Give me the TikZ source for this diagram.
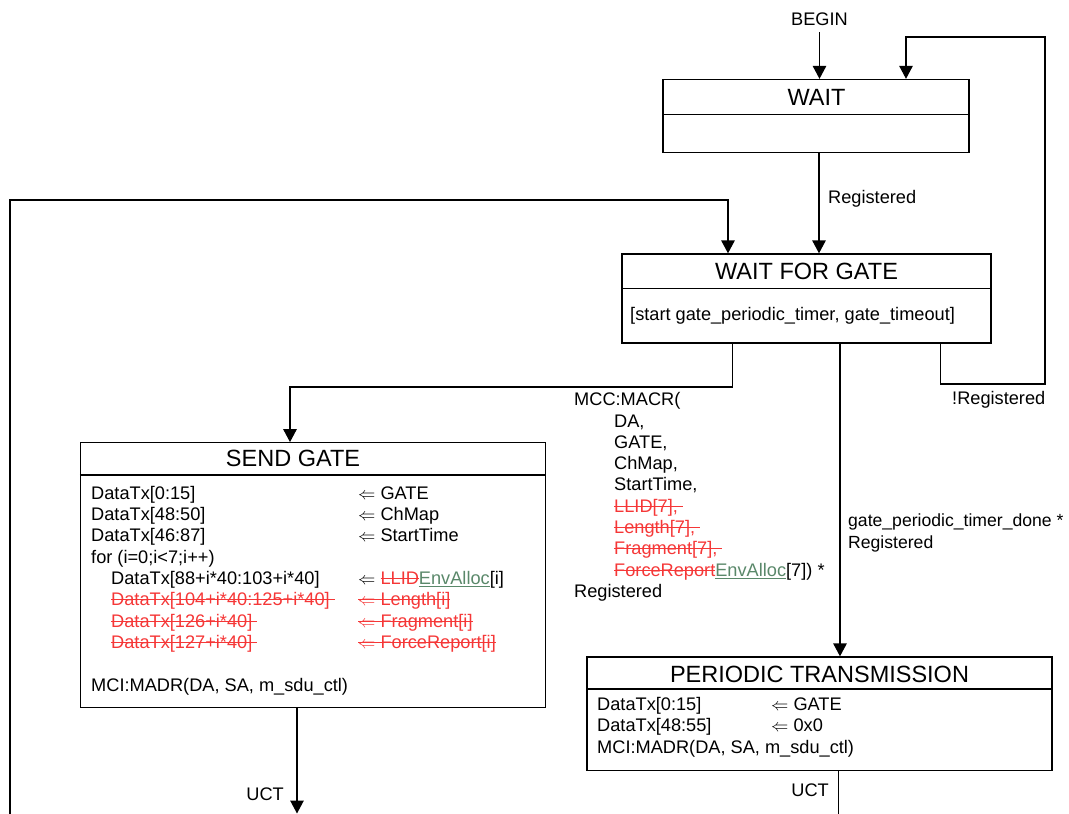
\documentclass[tikz,border=0pt]{standalone}
\usepackage{fontspec}
\setmainfont{Liberation Sans}
\usetikzlibrary{arrows.meta}
\definecolor{strikered}{RGB}{245,55,55}
\definecolor{envgreen}{RGB}{90,136,106}
\newsavebox{\strbox}
\newcommand{\del}[1]{{\color{strikered}\sbox{\strbox}{#1}\rlap{\rule[5.5pt]{\wd\strbox}{1.1pt}}\usebox{\strbox}}}
\newcommand{\ins}[1]{{\color{envgreen}\sbox{\strbox}{#1}\rlap{\rule[-2.6pt]{\wd\strbox}{1pt}}\usebox{\strbox}}}
\newcommand{\la}{$\Leftarrow$}
\begin{document}
\begin{tikzpicture}[x=1pt,y=-1pt,
  every node/.style={font=\fontsize{18.2}{21.3}\selectfont, inner sep=0pt},
  statebox/.style={draw, line width=1.3pt, rectangle},
  title/.style={font=\fontsize{23.5}{26}\selectfont, anchor=base},
  lbl/.style={anchor=base west},
  conn/.style={line width=1.3pt},
  arr/.style={conn, -{Triangle[length=13pt,width=13.5pt]}},
  divider/.style={line width=1.3pt}]
\useasboundingbox (0,0) rectangle (1069,814);

% states
\node[statebox, minimum width=306pt, minimum height=73pt] (wait) at (816,116) {};
\node[title] (waitT) at (816.5,105) {WAIT};
\draw[divider] (wait.west |- 0,114.3) -- (wait.east |- 0,114.3);

\node[statebox, minimum width=369pt, minimum height=89pt] (wfg) at (806.5,298.5) {};
\node[title] (wfgT) at (806.5,279) {WAIT FOR GATE};
\draw[divider] (wfg.west |- 0,288.5) -- (wfg.east |- 0,288.5);
\node[lbl] (wfgB) at (630,320) {[start gate\_periodic\_timer, gate\_timeout]};

\node[statebox, minimum width=465pt, minimum height=265pt] (sg) at (313,575.25) {};
\node[title] (sgT) at (293,466) {SEND GATE};
\draw[divider] (sg.west |- 0,475) -- (sg.east |- 0,475);
\node[lbl] (sgB) at (91,499.3) {%
\begin{tabular}[t]{@{}p{267pt}@{}l@{}}
DataTx[0:15] & \la\ GATE\\
DataTx[48:50] & \la\ ChMap\\
DataTx[46:87] & \la\ StartTime\\
for (i=0;i{\textless}7;i++) & \\
\hspace*{20pt}DataTx[88+i*40:103+i*40] & \la\ \del{LLID}\ins{EnvAlloc}[i]\\
\hspace*{20pt}\del{DataTx[104+i*40:125+i*40]~} & \del{\la~Length[i]}\\
\hspace*{20pt}\del{DataTx[126+i*40]~} & \del{\la~Fragment[i]}\\
\hspace*{20pt}\del{DataTx[127+i*40]~} & \del{\la~ForceReport[i]}\\
 & \\
MCI:MADR(DA, SA, m\_sdu\_ctl) &
\end{tabular}};

\node[statebox, minimum width=465pt, minimum height=113.5pt] (pt) at (819.5,713.75) {};
\node[title] (ptT) at (819.5,682.3) {PERIODIC TRANSMISSION};
\draw[divider] (pt.west |- 0,689) -- (pt.east |- 0,689);
\node[lbl] (ptB) at (597,710.5) {%
\begin{tabular}[t]{@{}p{174pt}@{}l@{}}
DataTx[0:15] & \la\ GATE\\
DataTx[48:55] & \la\ 0x0\\
\multicolumn{2}{@{}l@{}}{MCI:MADR(DA, SA, m\_sdu\_ctl)}
\end{tabular}};

% connectors
\node[anchor=base] (begin) at (819.5,25) {BEGIN};
\draw[arr] ([yshift=-7pt]begin.south) -- (begin.south |- wait.north);

\draw[arr] (wait.south -| 819,0) -- (wfg.north -| 819,0);
\node[lbl] (lreg) at (828,203) {Registered};

\draw[arr] (wfg.south -| 940.5,0) |- (1045,384) |- (906,37) -- (wait.north -| 906,0);
\node[lbl] (lnreg) at (952,404) {!Registered};

\coordinate (loopstart) at (10,814);
\draw[arr] (loopstart) |- (728,200) -- (wfg.north -| 728,0);

\draw[arr] (wfg.south -| 732.5,0) |- (290,387) -- (sg.north -| 290,0);
\node[lbl] (lmcc) at (574,405.7) {%
\begin{tabular}[t]{@{}l@{}}
MCC:MACR(\\
\hspace*{40pt}DA,\\
\hspace*{40pt}GATE,\\
\hspace*{40pt}ChMap,\\
\hspace*{40pt}StartTime,\\
\hspace*{40pt}\del{LLID[7],~}\\
\hspace*{40pt}\del{Length[7],~}\\
\hspace*{40pt}\del{Fragment[7],~}\\
\hspace*{40pt}\del{ForceReport}\ins{EnvAlloc}[7]) *\\
Registered
\end{tabular}};

\draw[arr] (wfg.south -| 840,0) -- (pt.north -| 840,0);
\node[lbl, font=\fontsize{17.6}{21.5}\selectfont] (lgpt) at (848,526.7) {%
\begin{tabular}[t]{@{}l@{}}
gate\_periodic\_timer\_done *\\
Registered
\end{tabular}};

\coordinate (sgend) at (297,813.5);
\draw[arr] (sg.south -| 297,0) -- (sgend);
\node[anchor=base east] (luct1) at (284,800.5) {UCT};

\coordinate (ptend) at (838.5,814);
\draw[conn] (pt.south -| 838.5,0) -- (ptend);
\node[anchor=base east] (luct2) at (829,796) {UCT};
\end{tikzpicture}
\end{document}
